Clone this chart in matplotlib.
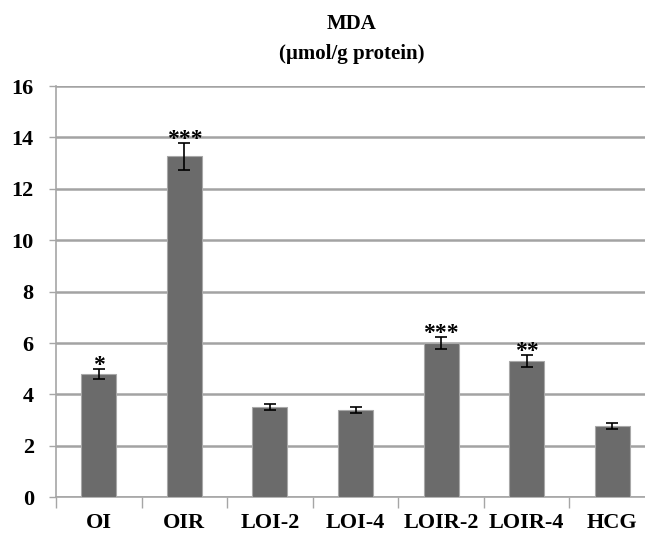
import numpy as np
import matplotlib.pyplot as plt

groups = ['OI', 'OIR', 'LOI-2', 'LOI-4', 'LOIR-2', 'LOIR-4', 'HCG']
mda = [4.8, 13.27, 3.5, 3.4, 6.0, 5.3, 2.78]
err = [0.2, 0.52, 0.12, 0.12, 0.22, 0.24, 0.11]
stars = ['*', '***', '', '', '***', '**', '']

plt.rcParams['font.family'] = ['Liberation Serif', 'DejaVu Serif']
plt.rcParams['font.weight'] = 'bold'

fig = plt.figure(figsize=(6.45, 5.4), dpi=100)
# axes run past the right edge, like the cropped original
ax = fig.add_axes([56/645, 1-497.3/540, 599/645, (497.3-86)/540])

x = np.arange(len(groups))
ax.bar(x, mda, width=0.41, color='#6b6b6b', edgecolor='#a8a8a8', linewidth=0.8, zorder=3)
ax.errorbar(x, mda, yerr=err, fmt='none', ecolor='black', elinewidth=1.2, capsize=4, capthick=1.2, zorder=4)
for xi, v, e, s in zip(x, mda, err, stars):
    if s:
        ax.annotate(s, (xi, v + e), xytext=(0, 2.5), textcoords='offset points',
                    ha='center', va='center', fontsize=17, fontweight='bold')

ax.set_xlim(-0.5, len(groups) - 0.5)
ax.set_ylim(0, 16)
ax.set_yticks(range(0, 17, 2))
ax.yaxis.grid(True, color='#a3a3a3', linewidth=1.8, zorder=0)
ax.set_axisbelow(True)

ax.set_xticks(x)
ax.set_xticklabels(groups, fontsize=16, fontweight='bold')
ax.set_xticks(np.arange(-0.5, len(groups), 1), minor=True)
ax.tick_params(axis='x', which='major', length=0, pad=11)
ax.tick_params(axis='x', which='minor', length=8, color='#a6a6a6', width=1)
ax.tick_params(axis='y', length=5, color='#a6a6a6', width=1, labelsize=16, pad=11)
for lab in ax.get_yticklabels():
    lab.set_fontweight('bold')

for sp in ['top', 'right']:
    ax.spines[sp].set_visible(False)
for sp in ['left', 'bottom']:
    ax.spines[sp].set_color('#a6a6a6')
    ax.spines[sp].set_linewidth(1.2)

fig.text(352/645, 1-24/540, 'MDA', ha='center', va='center', fontsize=15, fontweight='bold')
fig.text(352/645, 1-54/540, '(µmol/g protein)', ha='center', va='center', fontsize=15, fontweight='bold')

fig.savefig('out.png', dpi=100)
